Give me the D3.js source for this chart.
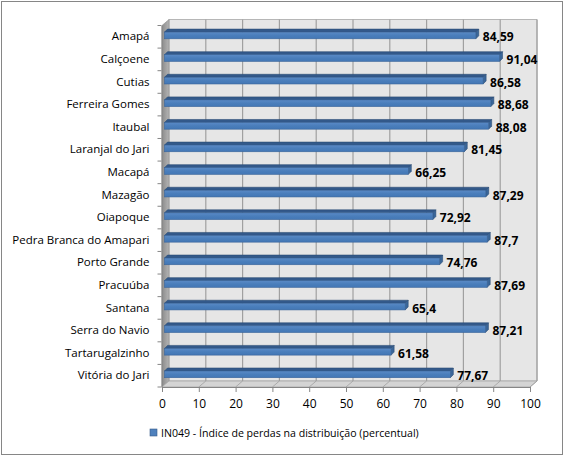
<!DOCTYPE html>
<html>
<head>
<meta charset="utf-8">
<script src="https://d3js.org/d3.v7.min.js"></script>
<style>
  body { margin: 0; background: #fff; }
  text { font-family: "Open Sans", "Noto Sans", sans-serif; }
</style>
</head>
<body>
<script>
// categories and values
var municipios = ["Amapá", "Calçoene", "Cutias", "Ferreira Gomes", "Itaubal",
  "Laranjal do Jari", "Macapá", "Mazagão", "Oiapoque", "Pedra Branca do Amapari",
  "Porto Grande", "Pracuúba", "Santana", "Serra do Navio", "Tartarugalzinho",
  "Vitória do Jari"];
var perdas = [84.59, 91.04, 86.58, 88.68, 88.08, 81.45, 66.25, 87.29, 72.92,
  87.7, 74.76, 87.69, 65.4, 87.21, 61.58, 77.67];
var xTicks = [0, 10, 20, 30, 40, 50, 60, 70, 80, 90, 100];
var serieNome = "IN049 - Índice de perdas na distribuição (percentual)";

var W = 572, H = 459;
var dx = 7, dy = -6;   // depth offset of the 3D box

var svg = d3.select("body").append("svg")
    .attr("width", W).attr("height", H);

var defs = svg.append("defs");
var gSide = defs.append("linearGradient").attr("id", "side")
    .attr("x1", 0).attr("x2", 1).attr("y1", 0).attr("y2", 0);
gSide.append("stop").attr("offset", 0).attr("stop-color", "#8c8c8c");
gSide.append("stop").attr("offset", 1).attr("stop-color", "#b4b4b4");
var gBar = defs.append("linearGradient").attr("id", "bar")
    .attr("x1", 0).attr("x2", 0).attr("y1", 0).attr("y2", 1);
gBar.append("stop").attr("offset", 0).attr("stop-color", "#5a8ac6");
gBar.append("stop").attr("offset", 0.5).attr("stop-color", "#4a7ebb");
gBar.append("stop").attr("offset", 1).attr("stop-color", "#4377b5");

// outer border
svg.append("rect")
    .attr("x", 1.5).attr("y", 1.5).attr("width", 561).attr("height", 453)
    .attr("fill", "#fff").attr("stroke", "#868686");

var x = d3.scaleLinear().domain([0, 100]).range([162, 530]);
var y = d3.scaleBand().domain(municipios).range([25.5, 387]);

var x0 = x(0), x1 = x(100), yT = y.range()[0], yB = y.range()[1];

function pts(a) { return a.map(function (p) { return p.join(","); }).join(" "); }

// back wall
svg.append("polygon")
    .attr("points", pts([[x0 + dx, yT + dy], [x1 + dx, yT + dy], [x1 + dx, yB + dy], [x0 + dx, yB + dy]]))
    .attr("fill", "#e6e6e6").attr("stroke", "#a6a6a6").attr("stroke-width", 0.8);

// side wall
svg.append("polygon")
    .attr("points", pts([[x0, yT], [x0 + dx, yT + dy], [x0 + dx, yB + dy], [x0, yB]]))
    .attr("fill", "url(#side)").attr("stroke", "#8c8c8c").attr("stroke-width", 0.6);

// floor
svg.append("polygon")
    .attr("points", pts([[x0, yB], [x0 + dx, yB + dy], [x1 + dx, yB + dy], [x1, yB]]))
    .attr("fill", "#d4d4d4").attr("stroke", "#a6a6a6").attr("stroke-width", 0.8);

// gridlines: back wall verticals and floor diagonals
var grid = svg.append("g").attr("stroke", "#a0a0a0").attr("stroke-width", 1.2);
grid.selectAll("line.v").data(xTicks.slice(1)).enter().append("line")
    .attr("class", "v")
    .attr("x1", function (d) { return x(d) + dx; }).attr("x2", function (d) { return x(d) + dx; })
    .attr("y1", yT + dy).attr("y2", yB + dy);
grid.selectAll("line.f").data(xTicks.slice(1)).enter().append("line")
    .attr("class", "f")
    .attr("x1", function (d) { return x(d); }).attr("x2", function (d) { return x(d) + dx; })
    .attr("y1", yB).attr("y2", yB + dy)
    .attr("stroke-width", 0.8);

// bars
var bx = 2.5, bd = 3;      // bar offset into the depth and its own depth
var bTop = 6.6, bBot = 13.3;
var bars = svg.append("g");
municipios.forEach(function (m, i) {
  var v = perdas[i];
  var xa = x(0) + bx, xb = x(v) + bx;
  var ya = y(m) + bTop, yb = y(m) + bBot;
  var g = bars.append("g");
  // top face
  g.append("polygon")
      .attr("points", pts([[xa, ya], [xa + bd, ya - bd], [xb + bd, ya - bd], [xb, ya]]))
      .attr("fill", "#33598a").attr("stroke", "#2c4d75").attr("stroke-width", 0.6);
  // end face
  g.append("polygon")
      .attr("points", pts([[xb, ya], [xb + bd, ya - bd], [xb + bd, yb - bd], [xb, yb]]))
      .attr("fill", "#3a6699").attr("stroke", "#2c4d75").attr("stroke-width", 0.6);
  // front face
  g.append("rect")
      .attr("x", xa).attr("y", ya).attr("width", xb - xa).attr("height", yb - ya)
      .attr("fill", "url(#bar)").attr("stroke", "#3a659a").attr("stroke-width", 0.6);
  // value label
  g.append("text")
      .attr("x", xb + bd + 4).attr("y", (ya + yb) / 2 + 1.5)
      .attr("dominant-baseline", "central")
      .attr("font-size", 12).attr("font-weight", "bold").attr("fill", "#000")
      .text(String(v).replace(".", ","));
});

// x axis
var xAxis = svg.append("g")
    .attr("transform", "translate(0," + yB + ")")
    .call(d3.axisBottom(x).tickValues(xTicks).tickSize(5).tickPadding(7));
xAxis.select(".domain").attr("stroke", "#868686");
xAxis.selectAll(".tick line").attr("stroke", "#868686");
xAxis.selectAll(".tick text").attr("font-size", 12).attr("fill", "#000")
    .style("font-family", "'Open Sans', sans-serif");

// y axis
var yAxis = svg.append("g")
    .attr("transform", "translate(" + (x0 - 0.5) + ",0)")
    .call(d3.axisLeft(y).tickSize(0).tickPadding(12));
yAxis.select(".domain").attr("stroke", "#868686");
yAxis.selectAll(".tick text").attr("font-size", 11.5).attr("fill", "#000")
    .style("font-family", "'Open Sans', sans-serif");
yAxis.selectAll("line.sep").data(y.domain().concat(["_end"])).enter().append("line")
    .attr("class", "sep")
    .attr("x1", -4).attr("x2", 0)
    .attr("y1", function (d, i) { return yT + i * y.step(); })
    .attr("y2", function (d, i) { return yT + i * y.step(); })
    .attr("stroke", "#868686");

// legend
var leg = svg.append("g").attr("transform", "translate(150,429)");
leg.append("rect").attr("width", 7).attr("height", 7)
    .attr("fill", "#4f81bd").attr("stroke", "#385d8a").attr("stroke-width", 0.6);
leg.append("text").attr("x", 11).attr("y", 4)
    .attr("dominant-baseline", "central").attr("font-size", 10.6).attr("fill", "#000")
    .text(serieNome);
</script>
</body>
</html>
